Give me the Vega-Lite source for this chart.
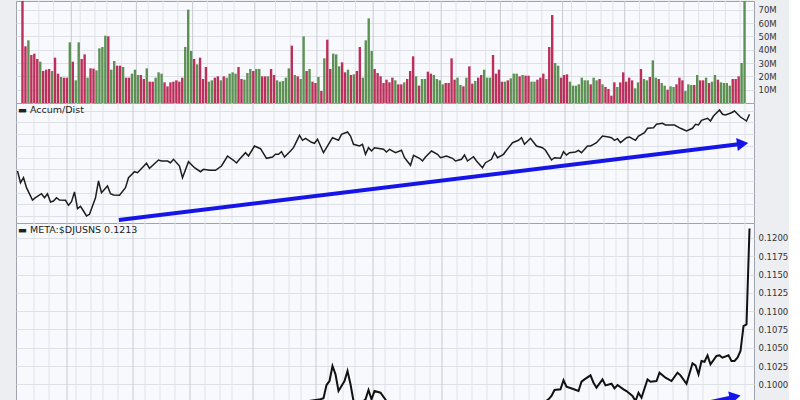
{
"$schema":"https://vega.github.io/schema/vega-lite/v6.json",
"padding":{"left":15,"top":0,"right":0,"bottom":0},
"background":"#eceef2",
"spacing":0,
"bounds":"flush",
"config":{"view":{"stroke":"#9ea3ab","strokeWidth":1,"fill":"#f8f9fc"},"axis":{"labelFont":"DejaVu Sans","labelFontSize":8.5,"labelColor":"#333333","labelOverlap":false,"gridColor":"#dde0e6","gridWidth":1,"domain":false,"ticks":false,"labelPadding":4,"title":null}},
"datasets":{
"grid":[{"g":5.5,"m":0},{"g":10.5,"m":0},{"g":16.5,"m":1},{"g":19.5,"m":0},{"g":24.5,"m":0},{"g":28.5,"m":0},{"g":33.5,"m":0},{"g":38.5,"m":1},{"g":42.5,"m":0},{"g":47.5,"m":0},{"g":52.5,"m":0},{"g":57.5,"m":1},{"g":62.5,"m":0},{"g":67.5,"m":0},{"g":71.5,"m":0},{"g":78.5,"m":1},{"g":85.5,"m":0},{"g":90.5,"m":0},{"g":94.5,"m":0},{"g":99.5,"m":1},{"g":103.5,"m":0},{"g":108.5,"m":0},{"g":112.5,"m":0},{"g":118.5,"m":1},{"g":122.5,"m":0},{"g":127.5,"m":0},{"g":132.5,"m":0},{"g":137.5,"m":0},{"g":141.5,"m":1},{"g":146.5,"m":0},{"g":151.5,"m":0},{"g":156.5,"m":0},{"g":161.5,"m":1},{"g":165.5,"m":0},{"g":170.5,"m":0},{"g":175.5,"m":0},{"g":182.5,"m":1},{"g":185.5,"m":0},{"g":190.5,"m":0},{"g":195.5,"m":0},{"g":199.5,"m":0},{"g":203.5,"m":1},{"g":208.5,"m":0},{"g":213.5,"m":0},{"g":218.5,"m":0},{"g":223.5,"m":1},{"g":228.5,"m":0},{"g":233.5,"m":0},{"g":237.5,"m":0},{"g":242.5,"m":0}],
"vol":[{"i":0,"v":88,"d":"d"},{"i":1,"v":42.5,"d":"d"},{"i":2,"v":47,"d":"u"},{"i":3,"v":36,"d":"d"},{"i":4,"v":37,"d":"d"},{"i":5,"v":33,"d":"d"},{"i":6,"v":31,"d":"u"},{"i":7,"v":24,"d":"d"},{"i":8,"v":25,"d":"d"},{"i":9,"v":25.5,"d":"d"},{"i":10,"v":24,"d":"u"},{"i":11,"v":34,"d":"d"},{"i":12,"v":22,"d":"d"},{"i":13,"v":19.5,"d":"u"},{"i":14,"v":19,"d":"d"},{"i":15,"v":19,"d":"d"},{"i":16,"v":45.5,"d":"u"},{"i":17,"v":31,"d":"d"},{"i":18,"v":17,"d":"u"},{"i":19,"v":45.5,"d":"u"},{"i":20,"v":33,"d":"d"},{"i":21,"v":36.5,"d":"d"},{"i":22,"v":19,"d":"u"},{"i":23,"v":26,"d":"d"},{"i":24,"v":25.8,"d":"d"},{"i":25,"v":24.5,"d":"u"},{"i":26,"v":41,"d":"u"},{"i":27,"v":42,"d":"u"},{"i":28,"v":50.5,"d":"u"},{"i":29,"v":50,"d":"d"},{"i":30,"v":25,"d":"u"},{"i":31,"v":31.5,"d":"u"},{"i":32,"v":28,"d":"d"},{"i":33,"v":28,"d":"d"},{"i":34,"v":27,"d":"u"},{"i":35,"v":19,"d":"d"},{"i":36,"v":19,"d":"d"},{"i":37,"v":22,"d":"u"},{"i":38,"v":25,"d":"u"},{"i":39,"v":21,"d":"u"},{"i":40,"v":21,"d":"d"},{"i":41,"v":18,"d":"d"},{"i":42,"v":26,"d":"u"},{"i":43,"v":16,"d":"d"},{"i":44,"v":16,"d":"d"},{"i":45,"v":19,"d":"u"},{"i":46,"v":23,"d":"u"},{"i":47,"v":22,"d":"u"},{"i":48,"v":15.5,"d":"d"},{"i":49,"v":12.5,"d":"d"},{"i":50,"v":15.5,"d":"d"},{"i":51,"v":16,"d":"d"},{"i":52,"v":17,"d":"d"},{"i":53,"v":16,"d":"d"},{"i":54,"v":19,"d":"d"},{"i":55,"v":42,"d":"u"},{"i":56,"v":70,"d":"u"},{"i":57,"v":39,"d":"u"},{"i":58,"v":33,"d":"d"},{"i":59,"v":29,"d":"u"},{"i":60,"v":34,"d":"d"},{"i":61,"v":18,"d":"d"},{"i":62,"v":27,"d":"d"},{"i":63,"v":16,"d":"u"},{"i":64,"v":17,"d":"u"},{"i":65,"v":19,"d":"d"},{"i":66,"v":20,"d":"d"},{"i":67,"v":17,"d":"u"},{"i":68,"v":20,"d":"d"},{"i":69,"v":19,"d":"u"},{"i":70,"v":22,"d":"u"},{"i":71,"v":23,"d":"u"},{"i":72,"v":22,"d":"u"},{"i":73,"v":27,"d":"d"},{"i":74,"v":18,"d":"d"},{"i":75,"v":17.5,"d":"u"},{"i":76,"v":22.5,"d":"u"},{"i":77,"v":25.5,"d":"u"},{"i":78,"v":24,"d":"d"},{"i":79,"v":25.5,"d":"u"},{"i":80,"v":25.5,"d":"u"},{"i":81,"v":20,"d":"d"},{"i":82,"v":20,"d":"d"},{"i":83,"v":20,"d":"u"},{"i":84,"v":25.5,"d":"d"},{"i":85,"v":21,"d":"d"},{"i":86,"v":17,"d":"u"},{"i":87,"v":16,"d":"u"},{"i":88,"v":16.5,"d":"u"},{"i":89,"v":19,"d":"u"},{"i":90,"v":26,"d":"u"},{"i":91,"v":43,"d":"d"},{"i":92,"v":21,"d":"u"},{"i":93,"v":20,"d":"d"},{"i":94,"v":18,"d":"u"},{"i":95,"v":50,"d":"u"},{"i":96,"v":24,"d":"d"},{"i":97,"v":25.5,"d":"u"},{"i":98,"v":16,"d":"d"},{"i":99,"v":15,"d":"d"},{"i":100,"v":19.5,"d":"u"},{"i":101,"v":9,"d":"d"},{"i":102,"v":33.5,"d":"u"},{"i":103,"v":47.5,"d":"d"},{"i":104,"v":25.5,"d":"d"},{"i":105,"v":37,"d":"u"},{"i":106,"v":36.5,"d":"u"},{"i":107,"v":27.5,"d":"u"},{"i":108,"v":30.5,"d":"d"},{"i":109,"v":23,"d":"d"},{"i":110,"v":25,"d":"u"},{"i":111,"v":21,"d":"d"},{"i":112,"v":21.5,"d":"u"},{"i":113,"v":24,"d":"d"},{"i":114,"v":42,"d":"d"},{"i":115,"v":19,"d":"u"},{"i":116,"v":47,"d":"u"},{"i":117,"v":63.5,"d":"u"},{"i":118,"v":39,"d":"u"},{"i":119,"v":25.5,"d":"d"},{"i":120,"v":22.5,"d":"d"},{"i":121,"v":20,"d":"d"},{"i":122,"v":15,"d":"d"},{"i":123,"v":17.5,"d":"d"},{"i":124,"v":15.5,"d":"d"},{"i":125,"v":19,"d":"d"},{"i":126,"v":17,"d":"u"},{"i":127,"v":14,"d":"d"},{"i":128,"v":14,"d":"d"},{"i":129,"v":15.5,"d":"u"},{"i":130,"v":18,"d":"d"},{"i":131,"v":24,"d":"d"},{"i":132,"v":35,"d":"d"},{"i":133,"v":20,"d":"u"},{"i":134,"v":13,"d":"d"},{"i":135,"v":18,"d":"u"},{"i":136,"v":18,"d":"u"},{"i":137,"v":23.5,"d":"d"},{"i":138,"v":22,"d":"d"},{"i":139,"v":21,"d":"u"},{"i":140,"v":18,"d":"u"},{"i":141,"v":17,"d":"u"},{"i":142,"v":14,"d":"u"},{"i":143,"v":15,"d":"d"},{"i":144,"v":15,"d":"d"},{"i":145,"v":33.5,"d":"d"},{"i":146,"v":17.5,"d":"d"},{"i":147,"v":19,"d":"u"},{"i":148,"v":13.5,"d":"u"},{"i":149,"v":12.5,"d":"d"},{"i":150,"v":19,"d":"u"},{"i":151,"v":27.5,"d":"d"},{"i":152,"v":14.5,"d":"d"},{"i":153,"v":16.5,"d":"u"},{"i":154,"v":19,"d":"d"},{"i":155,"v":21,"d":"d"},{"i":156,"v":25,"d":"u"},{"i":157,"v":19,"d":"u"},{"i":158,"v":19,"d":"u"},{"i":159,"v":36,"d":"d"},{"i":160,"v":22,"d":"d"},{"i":161,"v":25,"d":"d"},{"i":162,"v":16,"d":"d"},{"i":163,"v":16,"d":"u"},{"i":164,"v":17,"d":"d"},{"i":165,"v":18.5,"d":"u"},{"i":166,"v":22,"d":"u"},{"i":167,"v":22,"d":"u"},{"i":168,"v":20,"d":"d"},{"i":169,"v":21,"d":"u"},{"i":170,"v":20.5,"d":"d"},{"i":171,"v":20.5,"d":"d"},{"i":172,"v":16,"d":"u"},{"i":173,"v":16,"d":"u"},{"i":174,"v":17.5,"d":"d"},{"i":175,"v":19,"d":"d"},{"i":176,"v":22,"d":"d"},{"i":177,"v":18,"d":"u"},{"i":178,"v":42,"d":"d"},{"i":179,"v":66,"d":"d"},{"i":180,"v":30,"d":"u"},{"i":181,"v":28,"d":"u"},{"i":182,"v":19,"d":"d"},{"i":183,"v":21,"d":"d"},{"i":184,"v":21.5,"d":"d"},{"i":185,"v":16,"d":"u"},{"i":186,"v":13,"d":"u"},{"i":187,"v":13,"d":"u"},{"i":188,"v":14,"d":"u"},{"i":189,"v":19,"d":"u"},{"i":190,"v":17,"d":"u"},{"i":191,"v":17,"d":"u"},{"i":192,"v":14,"d":"d"},{"i":193,"v":19,"d":"u"},{"i":194,"v":17,"d":"u"},{"i":195,"v":18,"d":"d"},{"i":196,"v":14,"d":"u"},{"i":197,"v":12,"d":"d"},{"i":198,"v":10.5,"d":"d"},{"i":199,"v":5.5,"d":"d"},{"i":200,"v":15.5,"d":"d"},{"i":201,"v":12,"d":"u"},{"i":202,"v":15.5,"d":"d"},{"i":203,"v":23,"d":"d"},{"i":204,"v":16,"d":"d"},{"i":205,"v":19,"d":"d"},{"i":206,"v":17,"d":"d"},{"i":207,"v":11,"d":"u"},{"i":208,"v":15.5,"d":"u"},{"i":209,"v":25.5,"d":"d"},{"i":210,"v":18,"d":"u"},{"i":211,"v":17,"d":"u"},{"i":212,"v":19.5,"d":"d"},{"i":213,"v":32,"d":"u"},{"i":214,"v":19,"d":"u"},{"i":215,"v":18,"d":"d"},{"i":216,"v":15,"d":"u"},{"i":217,"v":13,"d":"u"},{"i":218,"v":10,"d":"d"},{"i":219,"v":12.5,"d":"u"},{"i":220,"v":12,"d":"u"},{"i":221,"v":14,"d":"d"},{"i":222,"v":19,"d":"d"},{"i":223,"v":17,"d":"d"},{"i":224,"v":9,"d":"u"},{"i":225,"v":14,"d":"u"},{"i":226,"v":13.5,"d":"u"},{"i":227,"v":13.5,"d":"d"},{"i":228,"v":21,"d":"u"},{"i":229,"v":17,"d":"d"},{"i":230,"v":17,"d":"d"},{"i":231,"v":19,"d":"u"},{"i":232,"v":15,"d":"d"},{"i":233,"v":16,"d":"u"},{"i":234,"v":21,"d":"u"},{"i":235,"v":17.5,"d":"d"},{"i":236,"v":15.5,"d":"u"},{"i":237,"v":15,"d":"u"},{"i":238,"v":15,"d":"u"},{"i":239,"v":13,"d":"u"},{"i":240,"v":18,"d":"d"},{"i":241,"v":18,"d":"d"},{"i":242,"v":20,"d":"d"},{"i":243,"v":30,"d":"u"},{"i":244,"v":95,"d":"u"}],
"ad":[{"i":0,"a":52},{"i":1,"a":40.3},{"i":2,"a":45.3},{"i":3,"a":35.3},{"i":5,"a":23},{"i":6,"a":25.3},{"i":8,"a":29.3},{"i":9,"a":25.3},{"i":10,"a":29.3},{"i":11,"a":21},{"i":12,"a":22},{"i":13,"a":25.3},{"i":14,"a":23},{"i":16,"a":22.7},{"i":17,"a":17.7},{"i":18,"a":21.3},{"i":19,"a":31},{"i":20,"a":14.3},{"i":21,"a":16.7},{"i":22,"a":12},{"i":23,"a":7},{"i":24,"a":8.7},{"i":26,"a":25.3},{"i":27,"a":42},{"i":28,"a":30.3},{"i":30,"a":37},{"i":31,"a":29.3},{"i":32,"a":28},{"i":34,"a":27.7},{"i":36,"a":35.3},{"i":37,"a":45.3},{"i":39,"a":51.3},{"i":40,"a":50.3},{"i":43,"a":59.7},{"i":44,"a":54.7},{"i":47,"a":63},{"i":48,"a":62},{"i":50,"a":62},{"i":51,"a":60.3},{"i":52,"a":63.7},{"i":54,"a":57},{"i":55,"a":45.3},{"i":57,"a":61.3},{"i":59,"a":55.3},{"i":61,"a":51.3},{"i":62,"a":53.7},{"i":64,"a":52.7},{"i":66,"a":52.7},{"i":68,"a":57},{"i":70,"a":67},{"i":72,"a":62.7},{"i":73,"a":60},{"i":74,"a":63.7},{"i":76,"a":70.3},{"i":77,"a":67},{"i":79,"a":77},{"i":81,"a":74.3},{"i":83,"a":64.7},{"i":85,"a":66},{"i":86,"a":68.7},{"i":87,"a":68.7},{"i":88,"a":71.3},{"i":89,"a":66},{"i":91,"a":72},{"i":92,"a":75.3},{"i":94,"a":87.7},{"i":95,"a":82.7},{"i":96,"a":84.7},{"i":98,"a":80.7},{"i":99,"a":79.7},{"i":100,"a":83.7},{"i":102,"a":70.3},{"i":103,"a":75.3},{"i":105,"a":85.3},{"i":107,"a":82.7},{"i":108,"a":88.7},{"i":110,"a":91},{"i":111,"a":87},{"i":112,"a":78.7},{"i":114,"a":77},{"i":115,"a":78.7},{"i":116,"a":68.7},{"i":117,"a":75.3},{"i":118,"a":72},{"i":119,"a":75.3},{"i":121,"a":74.3},{"i":122,"a":73.7},{"i":123,"a":71},{"i":124,"a":73.7},{"i":126,"a":70.3},{"i":128,"a":72.7},{"i":129,"a":65.3},{"i":131,"a":57.7},{"i":132,"a":67.7},{"i":134,"a":64.7},{"i":135,"a":62},{"i":136,"a":66},{"i":138,"a":72},{"i":140,"a":68.7},{"i":141,"a":65.3},{"i":143,"a":67},{"i":145,"a":64.7},{"i":146,"a":62},{"i":148,"a":63.7},{"i":149,"a":68},{"i":150,"a":62},{"i":152,"a":66.3},{"i":153,"a":62},{"i":155,"a":55.3},{"i":156,"a":60.3},{"i":158,"a":63.7},{"i":159,"a":70.3},{"i":160,"a":65.3},{"i":162,"a":68.7},{"i":163,"a":72.7},{"i":165,"a":80.3},{"i":167,"a":82.7},{"i":168,"a":85.3},{"i":169,"a":78.7},{"i":171,"a":84.7},{"i":173,"a":77},{"i":175,"a":75.3},{"i":176,"a":72.7},{"i":178,"a":63},{"i":179,"a":65.3},{"i":181,"a":64.7},{"i":182,"a":71.3},{"i":183,"a":68},{"i":184,"a":70.3},{"i":186,"a":71},{"i":187,"a":72.7},{"i":188,"a":70.3},{"i":190,"a":77},{"i":191,"a":77},{"i":192,"a":78.7},{"i":193,"a":80.3},{"i":195,"a":87},{"i":197,"a":86},{"i":198,"a":85.3},{"i":199,"a":82.7},{"i":200,"a":84.3},{"i":201,"a":80.3},{"i":203,"a":85.3},{"i":204,"a":86},{"i":206,"a":82.7},{"i":207,"a":87},{"i":209,"a":90.3},{"i":210,"a":94.7},{"i":212,"a":95.3},{"i":213,"a":98.7},{"i":215,"a":99.7},{"i":216,"a":98},{"i":219,"a":98},{"i":221,"a":94.7},{"i":223,"a":92},{"i":225,"a":94.7},{"i":226,"a":98.7},{"i":227,"a":98},{"i":228,"a":102.7},{"i":230,"a":104.7},{"i":231,"a":102},{"i":232,"a":107},{"i":234,"a":113},{"i":235,"a":108.7},{"i":236,"a":108},{"i":238,"a":110.3},{"i":239,"a":112},{"i":241,"a":106},{"i":243,"a":102},{"i":244,"a":108.7}],
"rs":[{"i":60,"r":0.095},{"i":80,"r":0.0955},{"i":90,"r":0.0963},{"i":95,"r":0.0976},{"i":101,"r":0.09795},{"i":102,"r":0.09809},{"i":103,"r":0.0999},{"i":104,"r":0.10045},{"i":105,"r":0.1025},{"i":106,"r":0.10137},{"i":107,"r":0.09908},{"i":109,"r":0.10045},{"i":110,"r":0.10182},{"i":111,"r":0.1},{"i":112,"r":0.09772},{"i":114,"r":0.0972},{"i":116,"r":0.09795},{"i":117,"r":0.09922},{"i":118,"r":0.09795},{"i":119,"r":0.09908},{"i":121,"r":0.09885},{"i":123,"r":0.09772},{"i":126,"r":0.0966},{"i":135,"r":0.0961},{"i":145,"r":0.0957},{"i":155,"r":0.096},{"i":165,"r":0.0965},{"i":172,"r":0.097},{"i":175,"r":0.0974},{"i":177,"r":0.09795},{"i":178,"r":0.0984},{"i":179,"r":0.09922},{"i":181,"r":0.09932},{"i":182,"r":0.10055},{"i":183,"r":0.09967},{"i":185,"r":0.0994},{"i":187,"r":0.09908},{"i":188,"r":0.10036},{"i":189,"r":0.10068},{"i":191,"r":0.10123},{"i":192,"r":0.10022},{"i":193,"r":0.09954},{"i":195,"r":0.10068},{"i":196,"r":0.09986},{"i":198,"r":0.10008},{"i":199,"r":0.09945},{"i":200,"r":0.0999},{"i":202,"r":0.09932},{"i":203,"r":0.09908},{"i":205,"r":0.0984},{"i":206,"r":0.09772},{"i":207,"r":0.09885},{"i":208,"r":0.09817},{"i":210,"r":0.10068},{"i":211,"r":0.10036},{"i":213,"r":0.10045},{"i":214,"r":0.10159},{"i":216,"r":0.1009},{"i":218,"r":0.10045},{"i":220,"r":0.10159},{"i":221,"r":0.10123},{"i":223,"r":0.10008},{"i":225,"r":0.10287},{"i":226,"r":0.1026},{"i":227,"r":0.10137},{"i":228,"r":0.10319},{"i":229,"r":0.10309},{"i":230,"r":0.10396},{"i":231,"r":0.10273},{"i":233,"r":0.10387},{"i":234,"r":0.10396},{"i":235,"r":0.10364},{"i":237,"r":0.10396},{"i":238,"r":0.10319},{"i":239,"r":0.10319},{"i":240,"r":0.10364},{"i":241,"r":0.10455},{"i":242,"r":0.10797},{"i":243,"r":0.1082},{"i":244,"r":0.1213}]
},
"vconcat":[
{"width":738,"height":102,
"layer":[
{"data":{"name":"grid"},"mark":{"type":"rule","strokeWidth":1},"encoding":{"x":{"field":"g","type":"quantitative","scale":{"domain":[-0.5,245.5],"nice":false,"zero":false},"axis":null},"color":{"condition":{"test":"datum.m == 1","value":"#c6cad1"},"value":"#e0e3e8"}}},
{"data":{"name":"vol"},"mark":{"type":"bar","size":2.4,"clip":true},"encoding":{"x":{"field":"i","type":"quantitative","scale":{"domain":[-0.5,245.5],"nice":false,"zero":false},"axis":null},"y":{"field":"v","type":"quantitative","scale":{"domain":[0,76.5],"nice":false,"clamp":true},"axis":{"orient":"right","values":[10,20,30,40,50,60,70],"labelExpr":"datum.value + 'M'","labelOverlap":false,"grid":true}},"color":{"field":"d","type":"nominal","scale":{"domain":["u","d"],"range":["#5c9153","#bd2f5b"]},"legend":null}}}
]},
{"width":738,"height":120,
"layer":[
{"data":{"name":"grid"},"mark":{"type":"rule","strokeWidth":1},"encoding":{"x":{"field":"g","type":"quantitative","scale":{"domain":[-0.5,245.5],"nice":false,"zero":false},"axis":null},"color":{"condition":{"test":"datum.m == 1","value":"#c6cad1"},"value":"#e0e3e8"}}},
{"data":{"name":"ad"},"mark":{"type":"line","color":"#1e1e1e","strokeWidth":1.5,"clip":true},"encoding":{"x":{"field":"i","type":"quantitative","scale":{"domain":[-0.5,245.5],"nice":false,"zero":false},"axis":null},"y":{"field":"a","type":"quantitative","scale":{"domain":[0,120],"nice":false,"zero":false},"axis":{"orient":"right","values":[7,18.7,30.4,42.1,53.8,65.5,77.2,88.9,100.6,112.3],"labels":false,"grid":true}}}},
{"data":{"values":[{"x1":33.8,"y1":3,"x2":241.7,"y2":79.2}]},"mark":{"type":"rule","color":"#1515e8","strokeWidth":4,"clip":true},"encoding":{"x":{"field":"x1","type":"quantitative","axis":null},"y":{"field":"y1","type":"quantitative","axis":{"orient":"right","values":[7,18.7,30.4,42.1,53.8,65.5,77.2,88.9,100.6,112.3],"labels":false,"grid":true}},"x2":{"field":"x2"},"y2":{"field":"y2"}}},
{"data":{"values":[{"x2":241.7,"y2":79.2}]},"mark":{"type":"point","shape":"triangle-right","filled":true,"opacity":1,"size":170,"angle":-7,"color":"#1515e8"},"encoding":{"x":{"field":"x2","type":"quantitative","axis":null},"y":{"field":"y2","type":"quantitative","axis":{"orient":"right","values":[7,18.7,30.4,42.1,53.8,65.5,77.2,88.9,100.6,112.3],"labels":false,"grid":true}}}},
{"data":{"values":[{"t":"▬ Accum/Dist"}]},"mark":{"type":"text","align":"left","baseline":"middle","dx":2,"dy":6.5,"font":"DejaVu Sans","fontSize":9.5,"color":"#222222"},"encoding":{"x":{"datum":-0.5,"type":"quantitative","axis":null},"y":{"datum":120,"type":"quantitative","axis":{"orient":"right","values":[7,18.7,30.4,42.1,53.8,65.5,77.2,88.9,100.6,112.3],"labels":false,"grid":true}},"text":{"field":"t"}}}
]},
{"width":738,"height":178,
"layer":[
{"data":{"name":"grid"},"mark":{"type":"rule","strokeWidth":1},"encoding":{"x":{"field":"g","type":"quantitative","scale":{"domain":[-0.5,245.5],"nice":false,"zero":false},"axis":null},"color":{"condition":{"test":"datum.m == 1","value":"#c6cad1"},"value":"#e0e3e8"}}},
{"data":{"name":"rs"},"mark":{"type":"line","color":"#111111","strokeWidth":2,"clip":true},"encoding":{"x":{"field":"i","type":"quantitative","scale":{"domain":[-0.5,245.5],"nice":false,"zero":false},"axis":null},"y":{"field":"r","type":"quantitative","scale":{"domain":[0.09772,0.12205],"nice":false,"zero":false},"axis":{"orient":"right","values":[0.1,0.1025,0.105,0.1075,0.11,0.1125,0.115,0.1175,0.12],"format":".4f","labelOverlap":false,"grid":true}}}},
{"data":{"values":[{"x1":229.5,"y1":0.09744,"x2":239.2,"y2":0.09832}]},"mark":{"type":"rule","color":"#1515e8","strokeWidth":4,"clip":true},"encoding":{"x":{"field":"x1","type":"quantitative","axis":null},"y":{"field":"y1","type":"quantitative","axis":{"orient":"right","values":[0.1,0.1025,0.105,0.1075,0.11,0.1125,0.115,0.1175,0.12],"format":".4f","labelOverlap":false,"grid":true}},"x2":{"field":"x2"},"y2":{"field":"y2"}}},
{"data":{"values":[{"x2":239.2,"y2":0.09832}]},"mark":{"type":"point","shape":"triangle-right","filled":true,"opacity":1,"size":170,"angle":-12,"color":"#1515e8","clip":true},"encoding":{"x":{"field":"x2","type":"quantitative","axis":null},"y":{"field":"y2","type":"quantitative","axis":{"orient":"right","values":[0.1,0.1025,0.105,0.1075,0.11,0.1125,0.115,0.1175,0.12],"format":".4f","labelOverlap":false,"grid":true}}}},
{"data":{"values":[{"t":"▬ META:$DJUSNS 0.1213"}]},"mark":{"type":"text","align":"left","baseline":"middle","dx":2,"dy":6.5,"font":"DejaVu Sans","fontSize":9.5,"color":"#222222"},"encoding":{"x":{"datum":-0.5,"type":"quantitative","axis":null},"y":{"datum":0.12205,"type":"quantitative","axis":{"orient":"right","values":[0.1,0.1025,0.105,0.1075,0.11,0.1125,0.115,0.1175,0.12],"format":".4f","labelOverlap":false,"grid":true}},"text":{"field":"t"}}}
]}
]
}
